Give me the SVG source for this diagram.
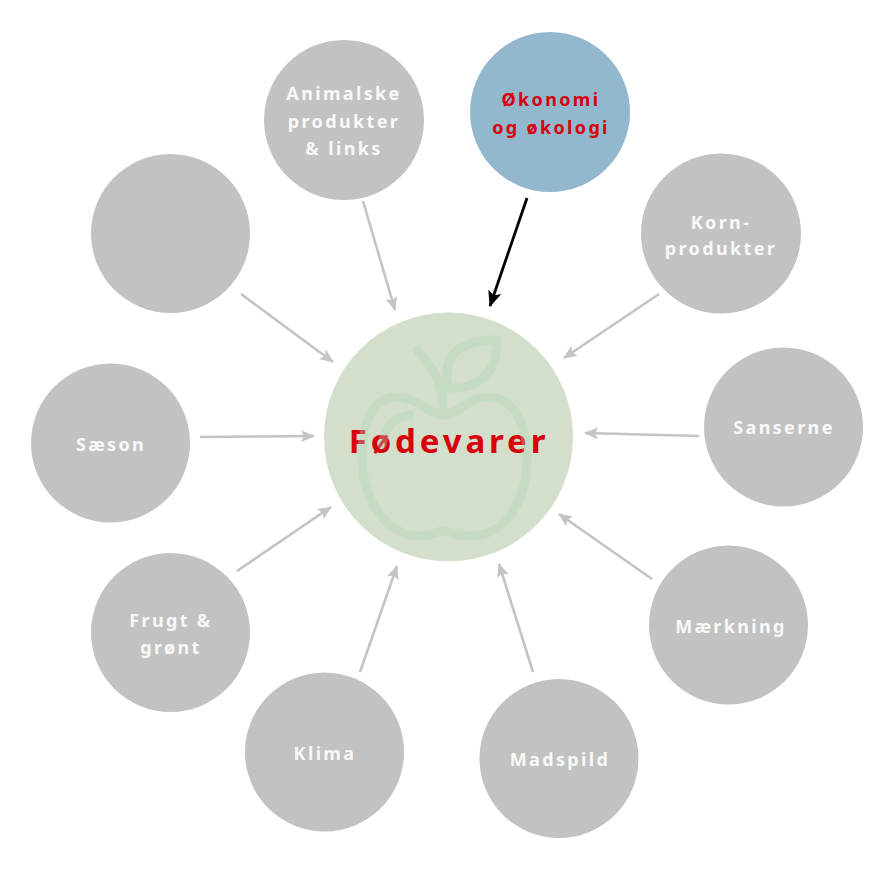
<svg xmlns="http://www.w3.org/2000/svg" width="886" height="886" viewBox="0 0 886 886">
<style>
.n{fill:#c2c2c2}
.t{font-family:"Noto Sans","Open Sans",sans-serif;font-weight:700;font-size:18px;letter-spacing:2.35px;fill:#f8f8f8;text-anchor:middle}
.r{fill:#d7000f}
.c{stroke:#c4c4c4;stroke-width:2.6;fill:none;marker-end:url(#ag)}
.apple{fill:none;stroke:#aed6b4;stroke-width:9;stroke-linecap:round;stroke-linejoin:round;opacity:.36}
</style>
<defs>
<marker id="ag" viewBox="0 0 14 12" refX="13" refY="6" markerWidth="14" markerHeight="12" markerUnits="userSpaceOnUse" orient="auto"><path d="M0 0L14 6L0 12L3 6Z" fill="#c4c4c4"/></marker>
<marker id="ab" viewBox="0 0 14 12" refX="13" refY="6" markerWidth="16" markerHeight="14" markerUnits="userSpaceOnUse" orient="auto"><path d="M0 0L14 6L0 12L3 6Z" fill="#000"/></marker>
</defs>
<rect width="886" height="886" fill="#fff"/>
<g id="connectors">
<path class="c" d="M363 201L395 310"/>
<path style="stroke:#000;stroke-width:2.8;fill:none;marker-end:url(#ab)" d="M527 198L490 306"/>
<path class="c" d="M659 294L564 358"/>
<path class="c" d="M699 436L585 433"/>
<path class="c" d="M652 579L559 514"/>
<path class="c" d="M533 672L499 564"/>
<path class="c" d="M360 672L397 566"/>
<path class="c" d="M237 571L331 507"/>
<path class="c" d="M200 437L314 436"/>
<path class="c" d="M241 294L333 362"/>
</g>
<g id="center"><circle cx="448.500" cy="437" r="124.500" fill="#d3dfca"/>
<text x="449" y="453" style="font-family:'Noto Sans','Open Sans',sans-serif;font-weight:700;font-size:33px;letter-spacing:3.9px;fill:#d7000f;text-anchor:middle">Fødevarer</text>
<g id="apple" class="apple">
<path d="M443 415C428 415 418 397 397 397C375 397 362 420 362 455C362 505 390 536 420 536C430 536 436 533 443 530C450 533 458 536 470 536C505 536 527 500 527 460C527 420 512 397 487 397C468 397 458 415 443 415Z"/>
<path d="M417 350C430 365 442 375 443 413"/>
<path d="M448 388C444 368 446 340 497 340C498 365 485 390 448 388Z"/>
<path d="M410 415C395 417 386 424 382 445"/>
</g></g>
<g id="animalske"><circle class="n" cx="344" cy="120" r="80"/><text class="t"><tspan x="344" y="99.500">Animalske</tspan><tspan x="344" y="127.500">produkter</tspan><tspan x="344" y="154.500">&amp; links</tspan></text></g>
<g id="okonomi"><circle cx="550" cy="112" r="80" fill="#93b7cc"/><text class="t r"><tspan x="551" y="105.500">Økonomi</tspan><tspan x="551" y="133.500">og økologi</tspan></text></g>
<g id="korn"><circle class="n" cx="721" cy="233.500" r="80"/><text class="t"><tspan x="721" y="228.500">Korn-</tspan><tspan x="721" y="255">produkter</tspan></text></g>
<g id="sanserne"><circle class="n" cx="783.500" cy="427" r="79.500"/><text class="t" x="784" y="433.500">Sanserne</text></g>
<g id="maerkning"><circle class="n" cx="728.500" cy="625" r="79.500"/><text class="t" x="731" y="632.500">Mærkning</text></g>
<g id="madspild"><circle class="n" cx="559" cy="758.500" r="79.500"/><text class="t" x="560" y="765.500">Madspild</text></g>
<g id="klima"><circle class="n" cx="324.500" cy="752" r="79.500"/><text class="t" x="325" y="759.500">Klima</text></g>
<g id="frugt"><circle class="n" cx="170.500" cy="632.500" r="79.500"/><text class="t"><tspan x="171" y="626.500">Frugt &amp;</tspan><tspan x="171" y="653.500">grønt</tspan></text></g>
<g id="saeson"><circle class="n" cx="110.500" cy="443" r="79.500"/><text class="t" x="111" y="450.500">Sæson</text></g>
<g id="empty"><circle class="n" cx="170.500" cy="233.500" r="79.500"/></g>
</svg>
